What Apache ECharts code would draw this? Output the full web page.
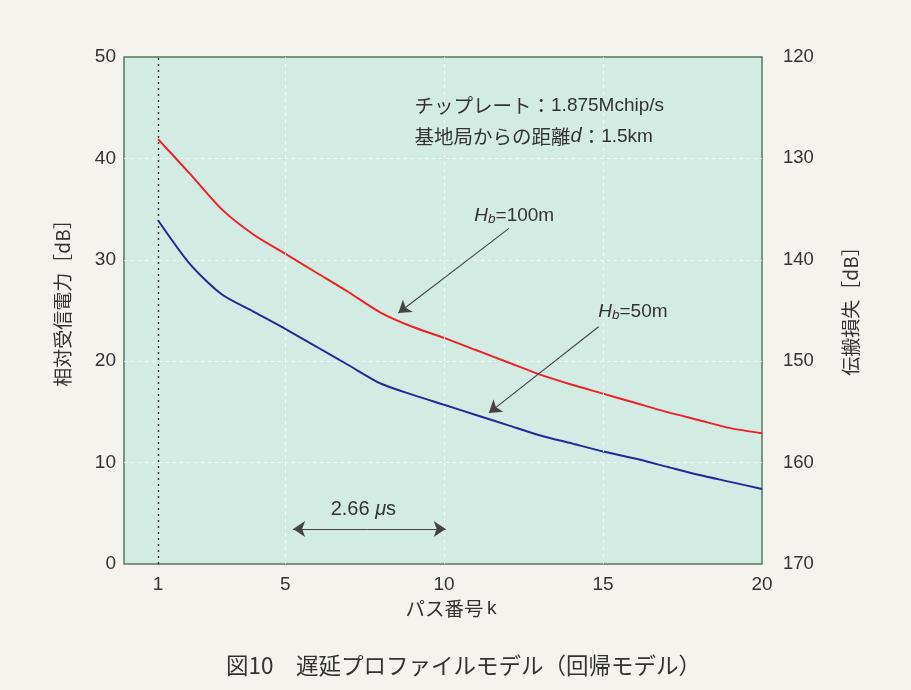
<!DOCTYPE html>
<html>
<head>
<meta charset="utf-8">
<script src="https://cdn.jsdelivr.net/npm/echarts@6/dist/echarts.min.js"></script>
<style>
  html, body { margin: 0; padding: 0; background: #f4f3ee; }
  #chart { width: 911px; height: 690px; }
</style>
</head>
<body>
<div id="chart"></div>
<script>
// Path index k (1..20)
const pathIndex = [1, 2, 3, 4, 5, 6, 7, 8, 9, 10, 11, 12, 13, 14, 15, 16, 17, 18, 19, 20];
// Relative received power [dB], base-station antenna height 100 m
const powerHb100 = [41.9, 38.5, 35.0, 32.5, 30.6, 28.7, 26.8, 24.8, 23.4, 22.3, 21.1, 19.9, 18.7, 17.7, 16.8, 15.9, 15.0, 14.2, 13.4, 12.9];
// Relative received power [dB], base-station antenna height 50 m
const powerHb50 = [33.9, 29.6, 26.6, 24.9, 23.2, 21.4, 19.6, 17.8, 16.7, 15.7, 14.7, 13.7, 12.7, 11.9, 11.1, 10.4, 9.6, 8.8, 8.1, 7.4];
// Axis tick labels
const xTickLabels = [1, 5, 10, 15, 20];
const xGridValues = [5, 10, 15];
const leftTicks = [0, 10, 20, 30, 40, 50];
const rightTicks = [120, 130, 140, 150, 160, 170];

const LATIN = "'Liberation Sans', 'Noto Sans CJK JP', sans-serif";
const CJK = "'Noto Sans CJK JP', 'Liberation Sans', sans-serif";
const TEXT = '#333333';

const chart = echarts.init(document.getElementById('chart'));

const toPairs = (vals) => pathIndex.map((k, i) => [k, vals[i]]);

const gridLine = { color: 'rgba(255,255,255,0.75)', type: [3, 4], width: 1 };
const arrowStyle = { color: '#444', width: 1.1, type: 'solid' };

const hbRich = {
  h: { fontStyle: 'italic', fontSize: 19, color: TEXT, fontFamily: LATIN },
  b: { fontStyle: 'italic', fontSize: 13.5, color: TEXT, fontFamily: LATIN, padding: [6, 0, 0, 0] },
  t: { fontSize: 19, color: TEXT, fontFamily: LATIN }
};

chart.setOption({
  backgroundColor: '#f4f3ee',
  animation: false,
  textStyle: { fontFamily: LATIN, color: TEXT },
  title: {
    text: '図10　遅延プロファイルモデル（回帰モデル）',
    left: 221,
    top: 649,
    textStyle: { fontFamily: CJK, fontSize: 22.5, fontWeight: 'normal', color: TEXT }
  },
  grid: {
    left: 124, top: 57, right: 149, bottom: 126,
    show: true,
    backgroundColor: '#d3ece3',
    borderColor: '#55775f',
    borderWidth: 1.5
  },
  xAxis: {
    type: 'value', min: -0.07, max: 20,
    name: '{j|パス番号} {n|k}', nameLocation: 'middle', nameGap: 28,
    nameTextStyle: {
      padding: [0, 0, 0, 16],
      rich: {
        j: { fontFamily: CJK, fontSize: 19.5, color: TEXT },
        n: { fontFamily: LATIN, fontSize: 19, color: TEXT }
      }
    },
    axisLine: { show: false }, axisTick: { show: false },
    splitLine: { show: false },
    axisLabel: { fontSize: 19, color: TEXT, margin: 11, customValues: xTickLabels }
  },
  yAxis: [
    {
      type: 'value', min: leftTicks[0], max: leftTicks[leftTicks.length - 1], interval: 10,
      name: '相対受信電力［dB］', nameLocation: 'middle', nameGap: 52, nameRotate: 90,
      nameTextStyle: { fontSize: 19, color: TEXT, fontFamily: CJK, padding: [0, 0, 0, 24] },
      axisLine: { show: false }, axisTick: { show: false },
      axisLabel: { fontSize: 19, color: TEXT, margin: 8 },
      splitLine: { show: true, showMinLine: false, showMaxLine: false, lineStyle: gridLine }
    },
    {
      type: 'value', min: rightTicks[0], max: rightTicks[rightTicks.length - 1], interval: 10,
      inverse: true, position: 'right',
      name: '伝搬損失［dB］', nameLocation: 'middle', nameGap: 79, nameRotate: 90,
      nameTextStyle: { fontSize: 19, color: TEXT, fontFamily: CJK, padding: [0, 0, 0, 8] },
      axisLine: { show: false }, axisTick: { show: false },
      axisLabel: { fontSize: 18.5, color: TEXT, margin: 21 },
      splitLine: { show: false }
    }
  ],
  series: [
    {
      name: 'Hb=100m', type: 'line', data: toPairs(powerHb100),
      showSymbol: false, smooth: 0.25,
      lineStyle: { color: '#ec2127', width: 2 },
      markLine: {
        silent: true, symbol: ['none', 'none'], animation: false,
        label: { show: false },
        lineStyle: { color: '#333', type: [2, 4], width: 1.4 },
        data: [{ xAxis: xTickLabels[0] }]
      },
      z: 3
    },
    {
      name: 'Hb=50m', type: 'line', data: toPairs(powerHb50),
      showSymbol: false, smooth: 0.25,
      lineStyle: { color: '#1f2a96', width: 2 },
      markLine: {
        silent: true, symbol: ['none', 'none'], animation: false,
        label: { show: false },
        lineStyle: gridLine,
        data: xGridValues.map((v) => ({ xAxis: v }))
      },
      z: 3
    },
    {
      name: 'notes', type: 'line', data: [], silent: true,
      markLine: {
        silent: true, animation: false,
        symbol: ['none', 'arrow'], symbolSize: 12,
        label: { show: false },
        lineStyle: arrowStyle,
        data: [
          [{ coord: [12.04, 33.1] }, { coord: [8.56, 24.75] }],
          [{ coord: [14.86, 23.4] }, { coord: [11.41, 14.9] }],
          [{ coord: [7.6, 3.45] }, { coord: [5.25, 3.45] }],
          [{ coord: [7.6, 3.45] }, { coord: [10.05, 3.45] }]
        ]
      },
      markPoint: {
        silent: true, animation: false,
        symbol: 'circle', symbolSize: 0,
        data: [
          {
            coord: [9.07, 43.65],
            label: {
              show: true, position: 'right', distance: 0,
              formatter: '{j|チップレート：}{n|1.875Mchip/s}\n{j|基地局からの距離}{i|d}{j|：}{n|1.5km}',
              lineHeight: 31,
              rich: {
                j: { fontFamily: CJK, fontSize: 19.5, color: TEXT, lineHeight: 31 },
                n: { fontFamily: LATIN, fontSize: 19, color: TEXT, lineHeight: 31 },
                i: { fontFamily: LATIN, fontStyle: 'italic', fontSize: 20, color: TEXT, lineHeight: 31 }
              }
            }
          },
          {
            coord: [10.95, 34.3],
            label: { show: true, position: 'right', distance: 0, formatter: '{h|H}{b|b}{t|=100m}', rich: hbRich }
          },
          {
            coord: [14.85, 24.85],
            label: { show: true, position: 'right', distance: 0, formatter: '{h|H}{b|b}{t|=50m}', rich: hbRich }
          },
          {
            coord: [7.46, 5.4],
            label: {
              show: true, position: 'inside',
              formatter: '{n|2.66 }{i|μ}{n|s}',
              rich: {
                n: { fontFamily: LATIN, fontSize: 20, color: TEXT },
                i: { fontFamily: LATIN, fontStyle: 'italic', fontSize: 20, color: TEXT }
              }
            }
          }
        ]
      }
    }
  ]
});
</script>
</body>
</html>
